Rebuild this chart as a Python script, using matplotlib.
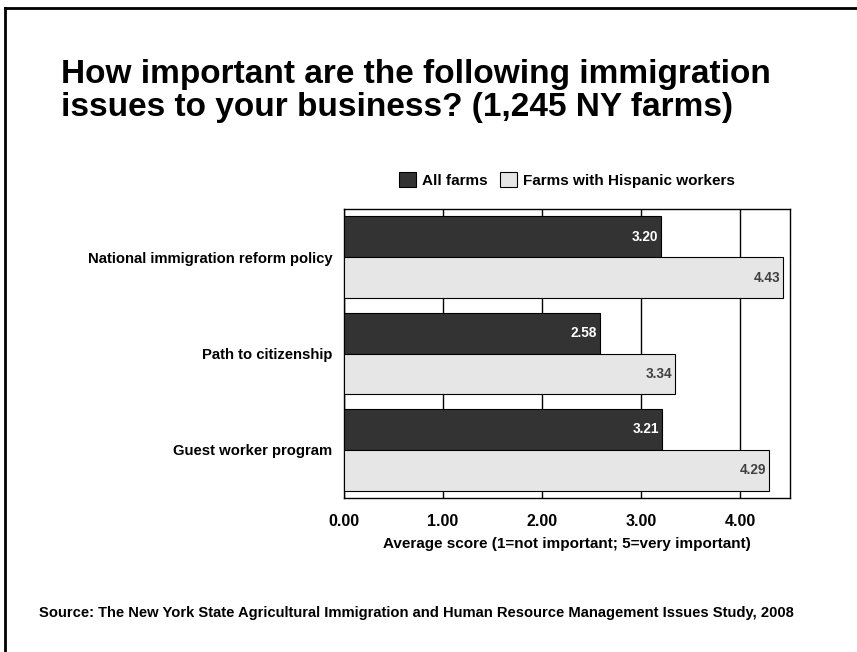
import matplotlib
matplotlib.use("Agg")
import matplotlib.pyplot as plt
import numpy as np
from matplotlib.patches import Rectangle
from matplotlib.lines import Line2D

plt.rcParams['font.family'] = ['Liberation Sans', 'DejaVu Sans']

categories = ["National immigration reform policy", "Path to citizenship", "Guest worker program"]
all_farms = [3.20, 2.58, 3.21]
hispanic = [4.43, 3.34, 4.29]
series_names = ["All farms", "Farms with Hispanic workers"]
xticks = [0, 1, 2, 3, 4]
xtick_labels = ["0.00", "1.00", "2.00", "3.00", "4.00"]

dark = "#333333"
light = "#e6e6e6"

fig = plt.figure(figsize=(8.57, 6.52), dpi=100)
ax = fig.add_axes([344/857, 1-498/652, (790-344)/857, (498-209)/652])

y = np.arange(len(categories))
h = 0.425
ax.barh(y - h/2, all_farms, height=h, color=dark, edgecolor="black", linewidth=0.8, zorder=3)
ax.barh(y + h/2, hispanic, height=h, color=light, edgecolor="black", linewidth=0.8, zorder=3)
for yi, v in zip(y, all_farms):
    ax.text(v - 0.03, yi - h/2, f"{v:.2f}", ha="right", va="center", color="white",
            fontsize=9.8, fontweight="bold", zorder=4)
for yi, v in zip(y, hispanic):
    ax.text(v - 0.03, yi + h/2, f"{v:.2f}", ha="right", va="center", color="#404040",
            fontsize=9.8, fontweight="bold", zorder=4)

ax.set_xlim(0, 4.5)
ax.set_ylim(2.5, -0.5)
ax.set_xticks(xticks)
ax.set_xticklabels(xtick_labels, fontsize=11.5, fontweight="bold")
ax.set_yticks(y)
ax.set_yticklabels(categories, fontsize=10.7, fontweight="bold")
ax.tick_params(axis="y", length=0, pad=8.5)
ax.tick_params(axis="x", length=0, pad=11.5)
ax.grid(axis="x", color="black", linewidth=1, zorder=0)
for s in ax.spines.values():
    s.set_linewidth(1)
    s.set_color("black")
ax.set_xlabel("Average score (1=not important; 5=very important)", fontsize=11, fontweight="bold", labelpad=6)

handles = [Rectangle((0, 0), 1, 1, facecolor=dark, edgecolor="black", linewidth=0.8),
           Rectangle((0, 0), 1, 1, facecolor=light, edgecolor="black", linewidth=0.8)]
fig.legend(handles, series_names, loc="center", bbox_to_anchor=(567/857, 1-180/652),
           ncol=2, frameon=False, prop={"weight": "bold", "size": 11},
           handlelength=1.1, handleheight=1.1, handletextpad=0.4, columnspacing=0.8)

fig.text(61/857, 1-91/652, "How important are the following immigration\nissues to your business? (1,245 NY farms)",
         fontsize=24, fontweight="bold", ha="left", va="center", linespacing=1.1)

fig.text(416/857, 1-613/652,
         "Source: The New York State Agricultural Immigration and Human Resource Management Issues Study, 2008",
         fontsize=10.6, fontweight="bold", ha="center", va="center")

fig.add_artist(Line2D([5/857, 5/857], [0, 1-8/652], color="black", linewidth=2, transform=fig.transFigure))
fig.add_artist(Line2D([5/857, 1], [1-8/652, 1-8/652], color="black", linewidth=2, transform=fig.transFigure))

fig.savefig("out.png", dpi=100)
